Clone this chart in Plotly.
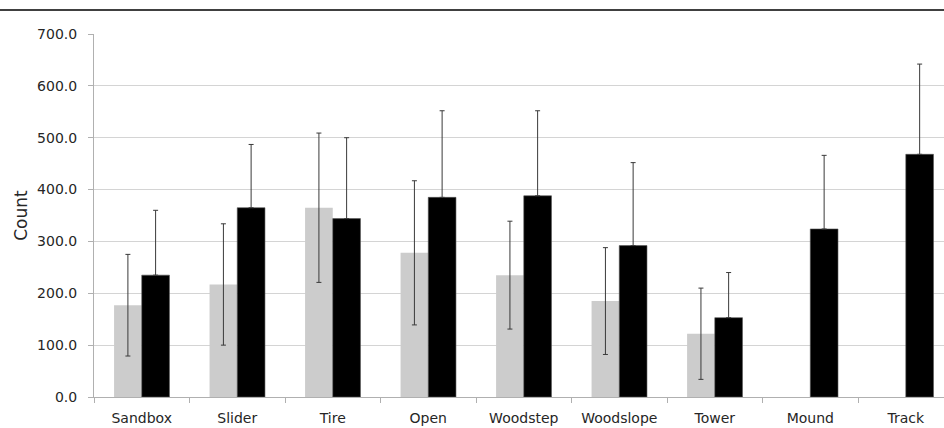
import plotly.graph_objects as go

categories = ["Sandbox", "Slider", "Tire", "Open", "Woodstep", "Woodslope", "Tower", "Mound", "Track"]
gray_values = [177, 217, 365, 278, 235, 185, 122, None, None]
gray_err = [98, 117, 144, 139, 104, 103, 88, None, None]
black_values = [235, 365, 344, 385, 388, 292, 153, 324, 468]
black_err = [125, 122, 156, 167, 164, 160, 87, 142, 174]
y_ticks = [0, 100, 200, 300, 400, 500, 600, 700]

font_family = "'DejaVu Sans', sans-serif"
text_color = "#262626"

fig = go.Figure()
fig.add_trace(go.Bar(
    x=categories, y=gray_values, name="A",
    marker=dict(color="#cccccc", line=dict(width=0)),
    error_y=dict(type="data", array=gray_err, visible=True, color="#3a3a3a", thickness=1, width=2.5),
))
fig.add_trace(go.Bar(
    x=categories, y=black_values, name="B",
    marker=dict(color="#000000", line=dict(color="#555555", width=0.6)),
    error_y=dict(type="data", array=black_err, arrayminus=[0] * len(black_err), symmetric=False,
                 visible=True, color="#3a3a3a", thickness=1, width=2.5),
))

fig.update_layout(
    width=944, height=428,
    margin=dict(l=94, r=0, t=34, b=31),
    paper_bgcolor="white", plot_bgcolor="white",
    barmode="group", bargap=0.42, bargroupgap=0,
    showlegend=False,
    font=dict(family=font_family, size=14, color=text_color),
)
fig.update_xaxes(
    type="category", range=[-0.5, 8.4],
    showline=True, linecolor="#b0b0b0", linewidth=1,
    ticks="outside", tickson="boundaries", ticklen=5, tickcolor="#b0b0b0",
    ticklabelstandoff=8,
    showgrid=False, tickfont=dict(size=14, color=text_color),
)
fig.update_yaxes(
    range=[0, 700], tickvals=y_ticks, tickformat=".1f",
    showline=True, linecolor="#b0b0b0", linewidth=1,
    ticks="outside", ticklen=5, tickcolor="#b0b0b0",
    ticklabelstandoff=8,
    showgrid=True, gridcolor="#d4d4d4", gridwidth=1,
    zeroline=False,
    tickfont=dict(size=14, color=text_color),
    title=dict(text="Count", font=dict(size=17, color=text_color), standoff=5),
)
fig.add_shape(type="line", xref="paper", yref="paper", x0=-0.12, x1=1.0,
              y0=1 + 24 / 363, y1=1 + 24 / 363, line=dict(color="#000000", width=1.5))
fig.write_html("out.html", config={"displayModeBar": False},
               post_script="document.body.style.margin='0';document.body.style.overflow='hidden';")
